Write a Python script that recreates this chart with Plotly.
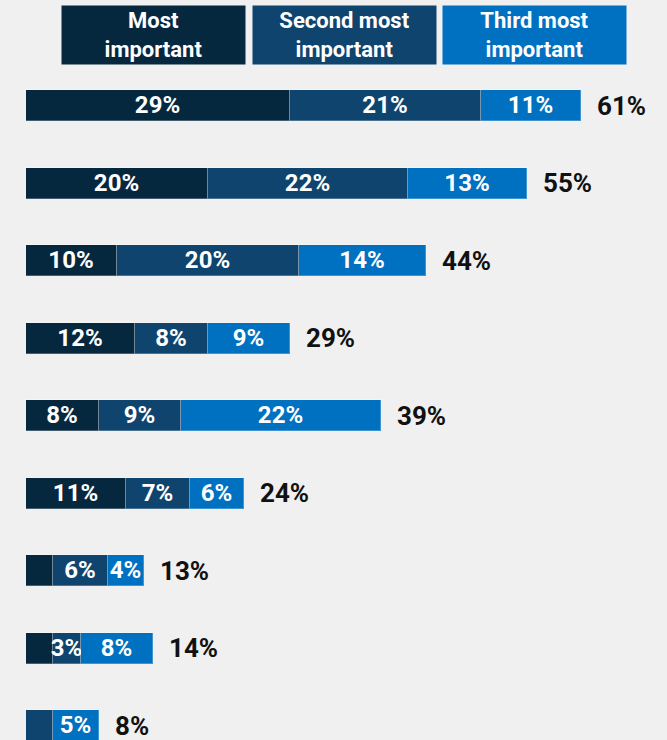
import plotly.graph_objects as go

# Share of respondents ranking each item 1st, 2nd and 3rd
rows = list(range(9))
most = [29, 20, 10, 12, 8, 11, 3, 3, 0]
second = [21, 22, 20, 8, 9, 7, 6, 3, 3]
third = [11, 13, 14, 9, 22, 6, 4, 8, 5]
totals = [61, 55, 44, 29, 39, 24, 13, 14, 8]

# Segment labels (small slivers left unlabeled)
most_labels = ["29%", "20%", "10%", "12%", "8%", "11%", "", "", ""]
second_labels = ["21%", "22%", "20%", "8%", "9%", "7%", "6%", "3%", ""]
third_labels = ["11%", "13%", "14%", "9%", "22%", "6%", "4%", "8%", "5%"]

series_names = ["Most<br>important", "Second most<br>important", "Third most<br>important"]
colors = ["#06283f", "#0f446e", "#0070c0"]
FONT = "Roboto"

fig = go.Figure()
for vals, labels, name, col in zip(
    [most, second, third],
    [most_labels, second_labels, third_labels],
    series_names,
    colors,
):
    fig.add_trace(
        go.Bar(
            y=rows,
            x=vals,
            orientation="h",
            name=name.replace("<br>", " "),
            marker=dict(color=col, line=dict(color="rgba(255,255,255,0.25)", width=1)),
            width=0.4,
            text=labels,
            texttemplate="<b>%{text}</b>",
            textposition="inside",
            textangle=0,
            constraintext="none",
            insidetextanchor="middle",
            textfont=dict(family=FONT, size=24, color="white"),
            cliponaxis=False,
            hoverinfo="skip",
        )
    )

# Totals to the right of each bar
for r, t in zip(rows, totals):
    fig.add_annotation(
        x=t, y=r, xref="x", yref="y",
        text=f"<b>{t}%</b>", showarrow=False,
        xanchor="left", xshift=14,
        font=dict(family=FONT, size=26, color="#111111"),
    )

# Legend boxes across the top
plot_left, plot_w = 26, 637
box_centers = [153.5, 345, 534.5]
for name, col, cx in zip(series_names, colors, box_centers):
    fig.add_annotation(
        x=(cx - plot_left) / plot_w, y=1.0, xref="paper", yref="paper",
        xanchor="center", yanchor="bottom", yshift=2,
        text=f"<b>{name}</b>", showarrow=False,
        bgcolor=col, width=183, height=58, borderpad=0,
        align="center", valign="middle",
        font=dict(family=FONT, size=22, color="white"),
    )

fig.update_layout(
    width=667, height=740,
    barmode="stack",
    bargap=0,
    showlegend=False,
    paper_bgcolor="#f0f0f0",
    plot_bgcolor="#f0f0f0",
    margin=dict(l=26, r=4, t=67, b=0),
    uniformtext=dict(minsize=18, mode="show"),
    xaxis=dict(range=[0, 70], visible=False, fixedrange=True),
    yaxis=dict(range=[8.184, -0.5], visible=False, fixedrange=True),
)

fig.write_html("out.html")
